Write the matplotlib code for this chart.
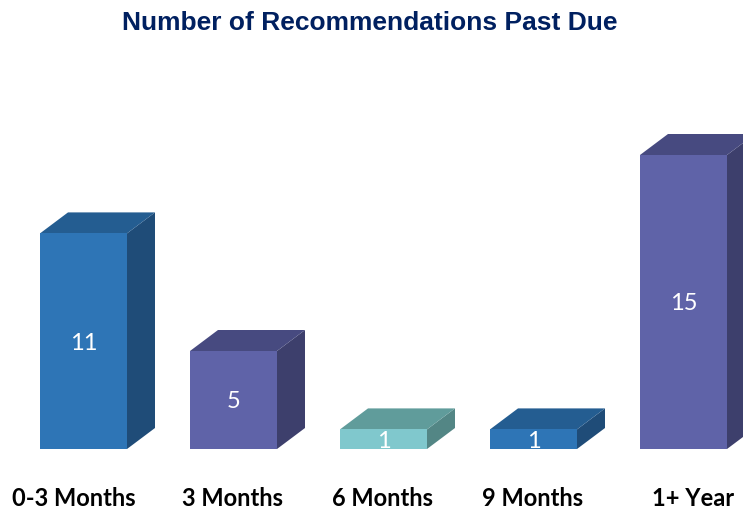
import matplotlib
matplotlib.use('Agg')
import matplotlib.pyplot as plt
from matplotlib.patches import Polygon

# Data
categories = ['0-3 Months', '3 Months', '6 Months', '9 Months', '1+ Year']
values = [11, 5, 1, 1, 15]

# (front, top, side) shades per bar
front_colors = ['#2E75B6', '#5F63A8', '#80C8CD', '#2E75B6', '#5F63A8']
top_colors = ['#245D91', '#474A80', '#609C9B', '#245D91', '#474A80']
side_colors = ['#1F4C78', '#3D3F6C', '#538685', '#1F4C78', '#3D3F6C']

# small horizontal nudges of the category labels (px)
label_shift = [-10, -1, -1, -1, 10]

W, H = 743, 508
fig = plt.figure(figsize=(W / 100, H / 100), dpi=100)
fig.patch.set_facecolor('white')

# axes: baseline at y=449px, 19.6 px per unit, 150 px per category
px_unit = 19.6
ax = fig.add_axes([0, (H - 449) / H, 1, 449 / H])
x0 = -83.5 / 150
ax.set_xlim(x0, x0 + W / 150)
ax.set_ylim(0, 449 / px_unit)
ax.axis('off')

bw = 87 / 150           # bar width
ddx = 28 / 150          # depth offset x
ddy = 21 / px_unit      # depth offset y

for i, (cat, v) in enumerate(zip(categories, values)):
    l, r = i - bw / 2, i + bw / 2
    front = Polygon([(l, 0), (r, 0), (r, v), (l, v)], closed=True,
                    facecolor=front_colors[i], edgecolor='none', clip_on=False, zorder=3)
    top = Polygon([(l, v), (r, v), (r + ddx, v + ddy), (l + ddx, v + ddy)], closed=True,
                  facecolor=top_colors[i], edgecolor='none', clip_on=False, zorder=2)
    side = Polygon([(r, 0), (r + ddx, ddy), (r + ddx, v + ddy), (r, v)], closed=True,
                   facecolor=side_colors[i], edgecolor='none', clip_on=False, zorder=2)
    for p in (side, top, front):
        ax.add_patch(p)
    ax.text(i, v / 2 - 2 / px_unit, str(v), ha='center', va='center', color='white',
            fontsize=17, family='Lato', zorder=4)
    ax.text(i + label_shift[i] / 150, -49 / px_unit, cat, ha='center', va='center',
            color='black', fontsize=17, fontweight='bold', family='Lato', clip_on=False)

fig.text(370 / W, 1 - 23 / H, 'Number of Recommendations Past Due',
         ha='center', va='center', color='#002060', fontsize=19,
         fontweight='bold', family='Liberation Sans')

fig.savefig('out.png', dpi=100, facecolor='white')
